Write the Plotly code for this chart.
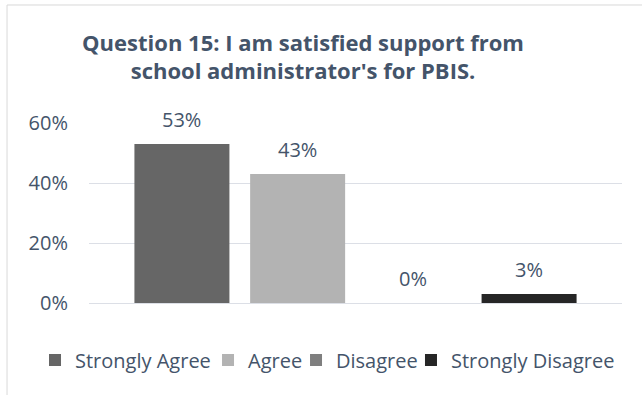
import plotly.graph_objects as go

# Survey responses for Question 15
categories = ["Strongly Agree", "Agree", "Disagree", "Strongly Disagree"]
shares = [0.53, 0.43, 0.00, 0.03]
bar_colors = ["#666666", "#b3b3b3", "#7f7f7f", "#262626"]
y_ticks = [0, 0.2, 0.4, 0.6]
y_tick_labels = ["0%", "20%", "40%", "60%"]

TEXT = "#44546A"
FONT = "Open Sans"
GRID = "#dcdfe6"

# one single-entry legend per response so the entries sit in one tight row
legend_ids = ["legend", "legend2", "legend3", "legend4"]
legend_x = [-0.1013, 0.2233, 0.3884, 0.6041]

fig = go.Figure()
for cat, val, col, lid in zip(categories, shares, bar_colors, legend_ids):
    fig.add_trace(go.Bar(
        x=[cat], y=[val], name=cat, legend=lid,
        marker=dict(color=col, line=dict(width=0)),
        hoverinfo="skip",
    ))

# value labels above each bar
for cat, val in zip(categories, shares):
    fig.add_annotation(
        x=cat, y=val, text=f"{round(val * 100)}%",
        showarrow=False, yanchor="middle", yshift=25,
        font=dict(family=FONT, size=20, color=TEXT),
    )

# light chart frame
fig.add_shape(
    type="rect", xref="paper", yref="paper",
    x0=-0.1538, x1=1.06, y0=-0.6, y1=1.6556,
    line=dict(color="#d9d9d9", width=1), fillcolor="rgba(0,0,0,0)",
    layer="below",
)

legend_style = dict(
    orientation="h", y=-0.3167, yanchor="middle", xanchor="left",
    font=dict(family=FONT, size=20, color=TEXT),
    itemwidth=30, bgcolor="rgba(0,0,0,0)", borderwidth=0,
)
legends = {lid: dict(legend_style, x=lx) for lid, lx in zip(legend_ids, legend_x)}

fig.update_layout(
    width=642, height=395,
    margin=dict(l=89, r=20, t=123, b=92),
    paper_bgcolor="white", plot_bgcolor="white",
    barmode="overlay", bargap=0.179,
    title=dict(
        text="<b>Question 15: I am satisfied support from<br>school administrator's for PBIS.</b>",
        x=0.472, xanchor="center", y=0.872, yanchor="middle",
        font=dict(family=FONT, size=22, color=TEXT),
    ),
    font=dict(family=FONT, color=TEXT),
    showlegend=True,
    xaxis=dict(
        categoryorder="array", categoryarray=categories,
        range=[-0.803, 3.803], showticklabels=False,
        showgrid=False, zeroline=False, showline=False,
    ),
    yaxis=dict(
        range=[0, 0.6], tickvals=y_ticks, ticktext=y_tick_labels,
        showgrid=True, gridcolor=GRID, gridwidth=1,
        zeroline=True, zerolinecolor=GRID, zerolinewidth=1,
        showline=False, ticks="", ticklabelstandoff=20,
        tickfont=dict(family=FONT, size=20, color=TEXT),
    ),
    **legends,
)

fig.write_html("out.html")
